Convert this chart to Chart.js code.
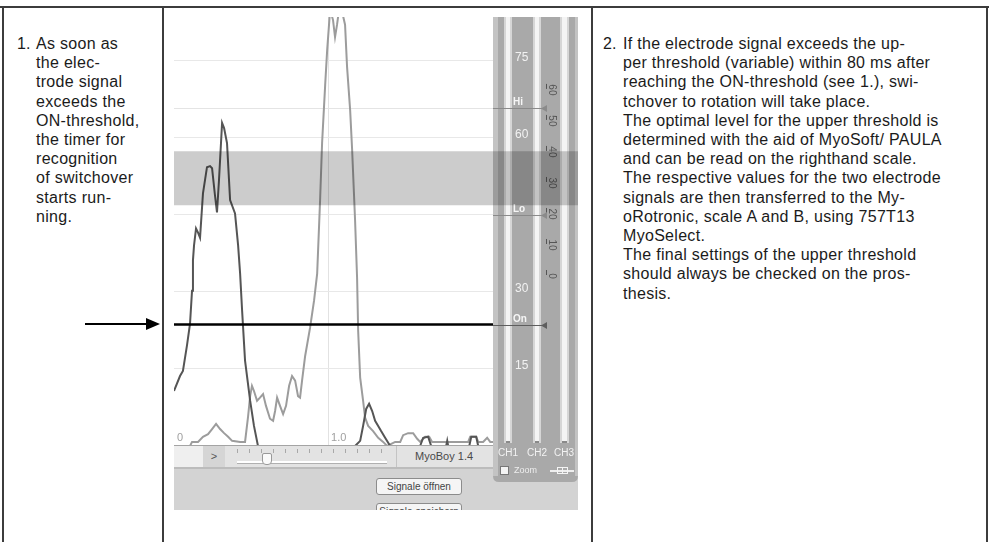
<!DOCTYPE html>
<html>
<head>
<meta charset="utf-8">
<script src="https://cdn.jsdelivr.net/npm/chart.js@4.4.0/dist/chart.umd.min.js"></script>
<style>
body{margin:0;width:989px;height:542px;position:relative;overflow:hidden;background:#fff;font-family:'Liberation Sans',Arial,sans-serif;}
.rule{position:absolute;background:#3c3c3c;}
.txt{position:absolute;font-size:16px;line-height:19.2px;color:#1b1b1b;letter-spacing:0.3px;white-space:nowrap;}
.num{position:absolute;font-size:16px;line-height:19.2px;color:#1b1b1b;}
#strip{position:absolute;left:174px;top:446px;width:319px;height:21px;background:#e3e3e3;}
#bottom{position:absolute;left:174px;top:467px;width:404px;height:43px;background:#d3d3d3;border-top:2px solid #bcbcbc;box-sizing:border-box;overflow:hidden;}
.btn{position:absolute;left:202px;width:86px;height:17px;background:#f5f5f5;border:1px solid #8c8c8c;border-radius:3px;box-sizing:border-box;font-size:10px;line-height:15px;text-align:center;color:#444;}
</style>
</head>
<body>

<div class="rule" style="left:0;top:6px;width:989px;height:2px"></div>
<div class="rule" style="left:2px;top:7px;width:2px;height:535px"></div>
<div class="rule" style="left:162px;top:7px;width:2px;height:535px"></div>
<div class="rule" style="left:591px;top:7px;width:2px;height:535px"></div>
<div class="rule" style="left:986px;top:7px;width:2px;height:535px"></div>

<div class="num" style="left:17px;top:34px">1.</div>
<div class="txt" style="left:36px;top:34px">As soon as<br>the elec-<br>trode signal<br>exceeds the<br>ON-threshold,<br>the timer for<br>recognition<br>of switchover<br>starts run-<br>ning.</div>

<div class="num" style="left:603px;top:34px">2.</div>
<div class="txt" style="left:623px;top:34px">If the electrode signal exceeds the up-<br>per threshold (variable) within 80 ms after<br>reaching the ON-threshold (see 1.), swi-<br>tchover to rotation will take place.<br>The optimal level for the upper threshold is<br>determined with the aid of MyoSoft/ PAULA<br>and can be read on the righthand scale.<br>The respective values for the two electrode<br>signals are then transferred to the My-<br>oRotronic, scale A and B, using 757T13<br>MyoSelect.<br>The final settings of the upper threshold<br>should always be checked on the pros-<br>thesis.</div>

<!-- arrow pointing at the ON line -->
<div style="position:absolute;left:85px;top:323px;width:62px;height:2px;background:#000"></div>
<div style="position:absolute;left:146px;top:318px;width:0;height:0;border-top:6px solid transparent;border-bottom:6px solid transparent;border-left:14px solid #000"></div>

<!-- software window parts under the chart -->
<div id="strip">
  <div style="position:absolute;left:0;top:0;width:29px;height:21px;background:#efefef"></div>
  <div style="position:absolute;left:29px;top:0;width:22px;height:21px;background:#d5d5d5;font-size:11px;line-height:21px;text-align:center;color:#555">&gt;</div>
  <div style="position:absolute;left:63px;top:3px;width:150px;height:4px;background:repeating-linear-gradient(90deg,#a8a8a8 0 1px,transparent 1px 12px)"></div>
  <div style="position:absolute;left:63px;top:15px;width:150px;height:2px;background:#fff;border-bottom:1px solid #b0b0b0"></div>
  <div style="position:absolute;left:88px;top:7px;width:8px;height:10px;background:#fafafa;border:1px solid #999;border-radius:2px 2px 4px 4px"></div>
  <div style="position:absolute;left:222px;top:0;width:1px;height:21px;background:#c4c4c4"></div>
  <div style="position:absolute;left:241px;top:4px;font-size:11px;color:#4a4a4a">MyoBoy 1.4</div>
</div>
<div id="bottom">
  <div class="btn" style="top:9px">Signale öffnen</div>
  <div class="btn" style="top:34px">Signale speichern</div>
</div>

<canvas id="emg" width="404" height="465" style="position:absolute;left:174px;top:17px;z-index:2"></canvas>

<script>
// time axis (s) and level axis (%)
var X_MAX = 2.07;
var Y_MAX = 83.4;
var xGridAt = [1.0];
var xLabelAt = [0, 1.0];
var xLabelText = ['0', '1.0'];
var yTicks = [15, 30, 45, 60, 75];
var yTickText = ['15', '30', '', '60', '75'];

// thresholds
var HI_LEVEL = 65.7;
var LO_LEVEL = 45.0;
var ON_LEVEL = 23.6;
var BAND_TOP = 57.3;
var BAND_BOTTOM = 46.8;

// right hand scale of the level meter
var sideScale = [60, 50, 40, 30, 20, 10, 0];
var channelNames = ['CH1', 'CH2', 'CH3'];

// electrode signal 1 (dark)
var ch1Time = [0,0.039,0.058,0.084,0.104,0.117,0.123,0.13,0.143,0.156,0.169,0.188,0.214,0.234,0.247,0.266,0.279,0.292,0.312,0.325,0.344,0.364,0.396,0.416,0.429,0.442,0.461,0.494,0.519,0.545,1.175,1.208,1.227,1.247,1.266,1.286,1.305,1.325,1.344,1.37,1.403,1.597,1.617,1.649,1.669,1.766,1.773,1.779,1.916,1.929,1.961,1.974,2.07];
var ch1Level = [10.7,13.6,14.6,19.5,23.8,30.2,36.1,39.0,42.3,41.5,40.5,49.1,54.2,54.4,54.0,48.7,45.4,51.7,62.8,61.8,58.9,47.8,45.2,39.0,33.5,26.3,16.6,8.8,3.9,0,0,1.0,3.9,7.2,8.2,6.8,4.9,3.9,2.9,1.6,0,0,1.6,1.8,0,0,1.0,0,0,1.8,1.8,0,0];

// electrode signal 2 (light)
var ch2Time = [0,0.104,0.117,0.156,0.188,0.221,0.247,0.273,0.299,0.325,0.351,0.377,0.429,0.461,0.481,0.494,0.506,0.519,0.539,0.558,0.578,0.597,0.623,0.643,0.656,0.669,0.688,0.708,0.727,0.747,0.766,0.786,0.805,0.818,0.831,0.851,0.883,0.909,0.929,0.948,0.961,0.981,0.994,1.013,1.032,1.045,1.058,1.071,1.091,1.11,1.123,1.143,1.156,1.175,1.188,1.195,1.208,1.227,1.24,1.26,1.292,1.325,1.357,1.383,1.435,1.468,1.487,1.519,1.552,1.578,1.597,1.63,1.656,1.675,1.76,1.825,1.909,1.922,1.961,1.974,2.006,2.032,2.052,2.07];
var ch2Level = [0,0,0.8,0.8,1.8,2.3,3.3,4.3,3.3,2.5,1.8,1.0,0.8,0.8,5.8,9.7,11.7,10.7,8.8,9.4,10.1,7.8,5.3,4.9,6.8,9.4,7.8,6.2,7.8,11.7,13.6,12.7,9.7,9.4,12.7,17.5,23.0,28.3,33.5,47.8,58.9,70.2,77.0,84.8,82.8,79.5,81.9,84.8,84.4,81.9,73.7,65.3,57.5,43.9,32.7,22.4,13.3,8.8,5.5,3.9,2.9,1.6,0.8,0,0.8,0.8,2.1,2.5,2.5,1.4,0.8,1.8,1.8,0.8,0.8,0.8,0.8,1.8,1.8,0.8,0.8,1.6,0.8,0.8];

function makePoints(t, v){
  var list = [];
  for(var i=0;i<t.length;i++){
    list.push({x:t[i], y:v[i]});
  }
  return list;
}

function vbar(c, x, w, top, bottom){
  c.fillStyle = '#d6d6d6';
  c.fillRect(x, top, w, bottom-top);
  c.fillStyle = '#f4f4f4';
  c.fillRect(x+2, top, w-4, bottom-top);
  c.fillStyle = '#8a8a8a';
  c.fillRect(x+2, bottom-2, w-4, 2);
}

function marker(c, x0, x1, y, col){
  c.strokeStyle = col;
  c.lineWidth = 1;
  c.beginPath();
  c.moveTo(x0, y+0.5);
  c.lineTo(x1, y+0.5);
  c.stroke();
  c.fillStyle = col;
  c.beginPath();
  c.moveTo(x1-6, y+0.5);
  c.lineTo(x1, y-3);
  c.lineTo(x1, y+4);
  c.closePath();
  c.fill();
}

function noPad(s){
  s.paddingTop = 0; s.paddingBottom = 0; s.paddingLeft = 0; s.paddingRight = 0;
}

var panelPlugin = {
  id:'panel',
  beforeDraw:function(chart){
    var c = chart.ctx, a = chart.chartArea, W = chart.width, H = chart.height;
    c.save();
    // level meter panel
    var r = 6;
    c.fillStyle = '#a9a9a9';
    c.beginPath();
    c.moveTo(a.right, 0);
    c.lineTo(W, 0);
    c.lineTo(W, H-r);
    c.quadraticCurveTo(W, H, W-r, H);
    c.lineTo(a.right+r, H);
    c.quadraticCurveTo(a.right, H, a.right, H-r);
    c.closePath();
    c.fill();
    c.fillStyle = '#c3c3c3';
    c.fillRect(a.right, 0, 5, H-r);
    c.fillRect(W-3, 0, 3, H-r);
    vbar(c, a.right+11, 8, 0, a.bottom-3);
    vbar(c, a.right+40, 8, 0, a.bottom-3);
    vbar(c, a.right+67, 9, 0, a.bottom-3);
    // channel names
    c.fillStyle = '#f3f3f3';
    c.font = '10px "Liberation Sans", Arial, sans-serif';
    c.textAlign = 'center';
    c.textBaseline = 'middle';
    var cx = [a.right+15, a.right+44, a.right+71];
    for(var i=0;i<channelNames.length;i++){
      c.fillText(channelNames[i], cx[i], a.bottom+7);
    }
    // zoom checkbox
    c.fillStyle = '#f4f4f4';
    c.fillRect(a.right+7, a.bottom+20, 9, 9);
    c.strokeStyle = '#777';
    c.strokeRect(a.right+7.5, a.bottom+20.5, 8, 8);
    c.fillStyle = '#eeeeee';
    c.font = '9px "Liberation Sans", Arial, sans-serif';
    c.textAlign = 'left';
    c.fillText('Zoom', a.right+21, a.bottom+25);
    c.fillRect(a.right+57, a.bottom+24, 24, 2);
    c.strokeStyle = '#f4f4f4';
    c.strokeRect(a.right+64.5, a.bottom+21.5, 5, 6);
    c.strokeRect(a.right+69.5, a.bottom+21.5, 5, 6);
    // side scale
    var y2 = chart.scales.y2;
    c.fillStyle = '#555555';
    c.font = '10px "Liberation Sans", Arial, sans-serif';
    for(var j=0;j<sideScale.length;j++){
      var py = y2.getPixelForValue(sideScale[j]);
      c.save();
      c.translate(a.right+59, py);
      c.rotate(Math.PI/2);
      c.textAlign = 'center';
      c.fillText(String(sideScale[j]), 0, 0);
      c.restore();
      c.fillRect(a.right+53, py-6, 1, 5);
    }
    c.restore();
  },
  beforeDatasetsDraw:function(chart){
    var c = chart.ctx, a = chart.chartArea, y = chart.scales.y;
    c.save();
    c.strokeStyle = '#e4e4e4';
    c.lineWidth = 1;
    var hy = Math.round(y.getPixelForValue(HI_LEVEL))+0.5;
    c.beginPath();
    c.moveTo(a.left, hy);
    c.lineTo(a.right, hy);
    c.stroke();
    c.restore();
  },
  afterDatasetsDraw:function(chart){
    var c = chart.ctx, a = chart.chartArea, W = chart.width;
    var x = chart.scales.x, y = chart.scales.y;
    c.save();
    // plot bottom edge
    c.fillStyle = '#a4a4a4';
    c.fillRect(a.left, a.bottom-1, a.right-a.left, 1);
    // time labels
    c.fillStyle = '#a0a0a0';
    c.font = '11px "Liberation Sans", Arial, sans-serif';
    c.textAlign = 'left';
    c.textBaseline = 'middle';
    for(var i=0;i<xLabelAt.length;i++){
      c.fillText(xLabelText[i], x.getPixelForValue(xLabelAt[i])+3, a.bottom-8);
    }
    // threshold markers in the meter panel
    var names = ['Hi','Lo','On'];
    var levels = [HI_LEVEL, LO_LEVEL, ON_LEVEL];
    var cols = ['#8a8a8a','#8a8a8a','#5e5e5e'];
    for(var k=0;k<levels.length;k++){
      var py = Math.round(y.getPixelForValue(levels[k]));
      marker(c, a.right, a.right+54, py, cols[k]);
      c.fillStyle = '#f6f6f6';
      c.font = 'bold 10px "Liberation Sans", Arial, sans-serif';
      c.fillText(names[k], a.right+20, py-6);
    }
    // highlighted band for the upper threshold
    var bt = y.getPixelForValue(BAND_TOP), bb = y.getPixelForValue(BAND_BOTTOM);
    c.fillStyle = 'rgba(0,0,0,0.2)';
    c.fillRect(a.left, bt, W-a.left, bb-bt);
    c.restore();
  }
};

var ctx = document.getElementById('emg');
var chart = new Chart(ctx, {
  type:'line',
  data:{
    datasets:[
      {label:'On', data:[{x:0,y:ON_LEVEL},{x:X_MAX,y:ON_LEVEL}], borderColor:'#000', borderWidth:2.5},
      {label:'CH1', data:makePoints(ch1Time, ch1Level), borderColor:'#555555', borderWidth:2},
      {label:'CH2', data:makePoints(ch2Time, ch2Level), borderColor:'#9c9c9c', borderWidth:2}
    ]
  },
  options:{
    responsive:false,
    animation:false,
    elements:{point:{radius:0}, line:{tension:0}},
    layout:{autoPadding:false, padding:{left:0, top:0, right:0, bottom:36}},
    plugins:{legend:{display:false}, tooltip:{enabled:false}},
    scales:{
      x:{
        type:'linear', min:0, max:X_MAX,
        ticks:{display:false},
        grid:{color:'#e2e2e2', drawTicks:false},
        border:{display:false},
        afterBuildTicks:function(s){ s.ticks = xGridAt.map(function(v){ return {value:v}; }); },
        afterFit:function(s){ s.height = 0; noPad(s); }
      },
      y:{
        type:'linear', position:'right', min:0, max:Y_MAX,
        ticks:{color:'#f2f2f2', padding:22, labelOffset:-3, font:{size:12},
          callback:function(v){ var i = yTicks.indexOf(v); return i < 0 ? '' : yTickText[i]; }},
        grid:{color:'#e8e8e8', drawTicks:false},
        border:{display:false},
        afterBuildTicks:function(s){ s.ticks = yTicks.map(function(v){ return {value:v}; }); },
        afterFit:function(s){ s.width = 85; noPad(s); }
      },
      y2:{type:'linear', display:false, min:-54.8, max:83.5}
    }
  },
  plugins:[panelPlugin]
});
</script>
</body>
</html>
